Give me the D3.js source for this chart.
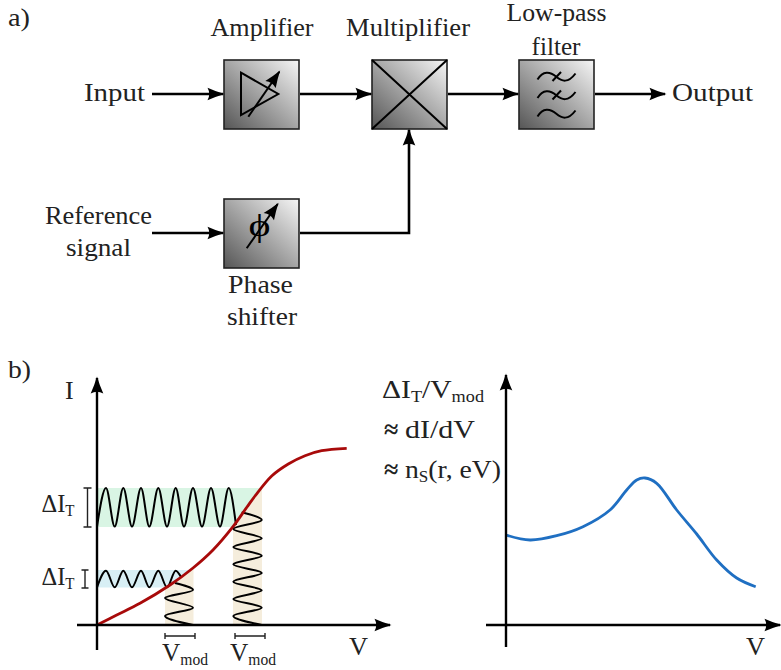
<!DOCTYPE html>
<html>
<head>
<meta charset="utf-8">
<script src="https://cdnjs.cloudflare.com/ajax/libs/d3/7.8.5/d3.min.js"></script>
<style>
  html, body { margin: 0; background: #fff; }
  text { font-family: "Liberation Serif", serif; font-size: 26px; fill: #222; }
</style>
</head>
<body>
<svg id="fig" width="781" height="670"></svg>
<script>
// I-V curve of panel b (arbitrary units)
var curveV = [0, 19.7, 43, 73, 96, 116, 136, 150, 158, 174.7, 191.3, 208, 224.7, 249.7];
var curveI = [0, 10, 21.7, 40, 57, 75, 98.3, 118, 129, 149, 161, 169.3, 174.3, 176.7];

// dI/dV curve on the right
var didvV = [0, 24, 50.7, 77, 104, 120.7, 130.7, 139, 150.7, 170.7, 190.7, 210.7, 230.7, 249.7];
var didvI = [90, 85, 89.3, 98.3, 115, 135, 145, 147, 141.7, 115, 91, 65, 47, 38.3];

// modulation wiggles: turning points
var bigOutV = [0, 9, 17.7, 26.3, 35, 44, 52.3, 61.3, 70, 78.7, 87, 96, 105, 114, 123, 131.7, 139];
var bigOutI = [98.5, 137, 98.5, 137, 98.5, 137, 98.5, 137, 98.5, 137, 98.5, 137, 98.5, 137, 98.5, 137, 100];
var smallOutV = [0, 9, 17.7, 26.3, 35, 44, 52.3, 61.3, 70, 78.7, 84];
var smallOutI = [37.7, 54.3, 37.7, 54.3, 37.7, 54.3, 37.7, 54.3, 37.7, 54.3, 48];
var bigInV = [144.7, 164.7, 136.3, 164.7, 136.3, 164.7, 136.3, 164.7, 136.3, 164.7, 136.3, 164.7, 136.3, 164.7];
var bigInI = [112.7, 105, 96, 86.7, 78, 69.3, 60.7, 52, 43.3, 34.7, 26, 17.3, 9, 0];
var smallInV = [78, 96, 68, 96, 68, 96];
var smallInI = [42, 35, 27, 17.3, 9, 0];

// shaded bands [from, to]
var bigOutBand = [98, 137];
var smallOutBand = [37.5, 55];
var bigInBand = [136, 165];
var smallInBand = [68, 96.5];

var svg = d3.select('#fig');
var defs = svg.append('defs');

var grad = defs.append('linearGradient').attr('id', 'boxGrad')
    .attr('x1', 0).attr('y1', 1).attr('x2', 1).attr('y2', 0);
grad.append('stop').attr('offset', 0).attr('stop-color', '#555');
grad.append('stop').attr('offset', 1).attr('stop-color', '#f6f6f6');

defs.append('marker').attr('id', 'head')
    .attr('markerUnits', 'userSpaceOnUse')
    .attr('viewBox', '-18 -7 20 14')
    .attr('markerWidth', 20).attr('markerHeight', 14)
    .attr('refX', 0).attr('refY', 0)
    .attr('orient', 'auto')
    .append('path')
    .attr('d', 'M1.5,0 Q-7,-2.5 -15.5,-6.3 Q-12,0 -15.5,6.3 Q-7,2.5 1.5,0Z')
    .attr('fill', '#000');

function zip(a, b) {
    return a.map(function(d, i) { return [d, b[i]]; });
}

// scales, 1 unit = 1 px, the domain includes the axis overhang
var xLeft = d3.scaleLinear().domain([-20, 293]).range([77, 390]);
var yLeft = d3.scaleLinear().domain([-25, 247]).range([650, 378]);
var xRight = d3.scaleLinear().domain([-20, 274]).range([486, 780]);
var yRight = d3.scaleLinear().domain([-22, 250]).range([647, 375]);

function leftLine(curve) {
    return d3.line()
        .x(function(d) { return xLeft(d[0]); })
        .y(function(d) { return yLeft(d[1]); })
        .curve(curve);
}
var lineLeft = leftLine(d3.curveMonotoneX);
var lineLeftVert = leftLine(d3.curveMonotoneY);
var lineLeftSmooth = leftLine(d3.curveCatmullRom.alpha(0.5));

var curvePts = zip(curveV, curveI);

// clip regions either side of the I-V curve
function clipArea(id, topI) {
    var area = d3.area()
        .x(function(d) { return xLeft(d[0]); })
        .y0(yLeft(topI))
        .y1(function(d) { return yLeft(d[1]); })
        .curve(d3.curveCatmullRom.alpha(0.5));
    defs.append('clipPath').attr('id', id).append('path').attr('d', area(curvePts));
}
clipArea('belowCurve', 0);
clipArea('aboveCurve', 177);

var plot = svg.append('g');

function hBand(band, toV, color) {
    plot.append('rect')
        .attr('x', xLeft(0)).attr('width', xLeft(toV) - xLeft(0))
        .attr('y', yLeft(band[1])).attr('height', yLeft(band[0]) - yLeft(band[1]))
        .attr('fill', color).attr('clip-path', 'url(#aboveCurve)');
}
function vBand(band, color) {
    plot.append('rect')
        .attr('x', xLeft(band[0])).attr('width', xLeft(band[1]) - xLeft(band[0]))
        .attr('y', yLeft(177)).attr('height', yLeft(0) - yLeft(177))
        .attr('fill', color).attr('clip-path', 'url(#belowCurve)');
}
hBand(bigOutBand, 165, '#d9f5e4');
hBand(smallOutBand, 96.5, '#d8eff5');
vBand(bigInBand, '#f5eddc');
vBand(smallInBand, '#f5eddc');

function wiggle(gen, vs, is) {
    plot.append('path').attr('d', gen(zip(vs, is)))
        .attr('fill', 'none').attr('stroke', '#000').attr('stroke-width', 2);
}
wiggle(lineLeft, bigOutV, bigOutI);
wiggle(lineLeft, smallOutV, smallOutI);
wiggle(lineLeftVert, bigInV, bigInI);
wiggle(lineLeftVert, smallInV, smallInI);

plot.append('path').attr('d', lineLeftSmooth(curvePts))
    .attr('fill', 'none').attr('stroke', '#a80a0a').attr('stroke-width', 2.8);

var lineRight = d3.line()
    .x(function(d) { return xRight(d[0]); })
    .y(function(d) { return yRight(d[1]); })
    .curve(d3.curveCatmullRom.alpha(0.5));
plot.append('path').attr('d', lineRight(zip(didvV, didvI)))
    .attr('fill', 'none').attr('stroke', '#1f6fc2').attr('stroke-width', 2.8);

// axes without ticks, just the domain line with an arrow head
function drawAxis(axis, tx, ty) {
    var g = svg.append('g')
        .attr('transform', 'translate(' + tx + ',' + ty + ')')
        .call(axis.tickValues([]).tickSizeOuter(0).offset(0));
    g.select('.domain')
        .attr('stroke', '#000').attr('stroke-width', 2.4)
        .attr('marker-end', 'url(#head)');
}
drawAxis(d3.axisBottom(xLeft), 0, yLeft(0));
drawAxis(d3.axisLeft(yLeft), xLeft(0), 0);
drawAxis(d3.axisBottom(xRight), 0, yRight(0));
drawAxis(d3.axisLeft(yRight), xRight(0), 0);

// block diagram
var diagram = svg.append('g');

function box(x, y) {
    diagram.append('rect').attr('x', x).attr('y', y).attr('width', 75).attr('height', 69)
        .attr('fill', 'url(#boxGrad)').attr('stroke', '#222').attr('stroke-width', 1.6);
}
function stroke(d, w, withHead) {
    var p = diagram.append('path').attr('d', d).attr('fill', 'none')
        .attr('stroke', '#000').attr('stroke-width', w || 2.6);
    if (withHead) p.attr('marker-end', 'url(#head)');
    return p;
}

box(224, 60);
box(372, 60);
box(519, 60);
box(224, 199);

stroke('M152,94H223', 2.6, true);
stroke('M300,94H371', 2.6, true);
stroke('M448,94H518', 2.6, true);
stroke('M595,94H665', 2.6, true);
stroke('M152,233H223', 2.6, true);
stroke('M300,233H409V130', 2.6, true);

// amplifier symbol
stroke('M241,72.7L278.3,94L241,115Z', 2);
stroke('M248.3,116.7L279.3,71.7', 2, true);

// multiplier cross
stroke('M372,60L447,129M447,60L372,129', 2);

// filter symbol: three tildes, the top two struck through
[76.5, 95, 113.5].forEach(function(cy, i) {
    stroke('M537.5,' + (cy + 3) + 'C543,' + (cy - 6) + ' 550,' + (cy - 5) + ' 556,' + cy +
        'S568,' + (cy + 7) + ' 575.5,' + (cy - 3), 2);
    if (i < 2) stroke('M552.5,' + (cy + 4.5) + 'L561,' + (cy - 4.5), 2);
});

// text helpers, parts are [string, isSubscript], width stretches the glyphs
function label(x, y, parts, anchor, width) {
    var t = svg.append('text').attr('x', x).attr('y', y)
        .attr('text-anchor', anchor || 'start');
    var lowered = false;
    parts.forEach(function(p) {
        var s = t.append('tspan').text(p[0]);
        if (p[1]) {
            s.attr('dy', lowered ? 0 : 4).style('font-size', '16px');
            lowered = true;
        } else {
            if (lowered) s.attr('dy', -4);
            lowered = false;
        }
    });
    if (width) t.attr('textLength', width).attr('lengthAdjust', 'spacingAndGlyphs');
    return t;
}

label(8, 26, [['a)']], 'start', 22);
label(262, 36, [['Amplifier']], 'middle', 103);
label(408, 36, [['Multiplifier']], 'middle', 124);
label(556.5, 21, [['Low-pass']], 'middle', 100);
label(556, 54.5, [['filter']], 'middle', 49);
label(84, 101, [['Input']], 'start', 61);
label(672, 101, [['Output']], 'start', 81);
label(98.5, 224, [['Reference']], 'middle', 107);
label(98.5, 256, [['signal']], 'middle', 65);
label(260.5, 293, [['Phase']], 'middle', 65);
label(262, 325, [['shifter']], 'middle', 70);
label(8, 378, [['b)']], 'start', 23);
label(65, 399, [['I']]);
label(41.5, 512, [['ΔI'], ['T', true]], 'start', 33);
label(41.5, 585, [['ΔI'], ['T', true]], 'start', 33);
label(162, 661, [['V'], ['mod', true]], 'start', 46);
label(230, 661, [['V'], ['mod', true]], 'start', 46);
label(349, 655, [['V']], 'start', 19);
label(746, 655, [['V']], 'start', 19);
label(382, 398, [['ΔI'], ['T', true], ['/V'], ['mod', true]], 'start', 102);
label(384, 438, [['≈']]).style('font-weight', 'bold');
label(405, 438, [['dI/dV']], 'start', 70);
label(384, 478, [['≈']]).style('font-weight', 'bold');
label(405, 478, [['n'], ['S', true], ['(r, eV)']], 'start', 96);

// phase shifter symbol
svg.append('text').attr('x', 259.5).attr('y', 236).attr('text-anchor', 'middle')
    .attr('textLength', 22).attr('lengthAdjust', 'spacingAndGlyphs')
    .style('font-size', '32px').style('fill', '#000').text('ϕ');
svg.append('path').attr('d', 'M246.7,248.3L277.7,204').attr('fill', 'none')
    .attr('stroke', '#000').attr('stroke-width', 2).attr('marker-end', 'url(#head)');

// brackets next to the bands
function bracket(d) {
    svg.append('path').attr('d', d).attr('fill', 'none')
        .attr('stroke', '#222').attr('stroke-width', 1.4);
}
bracket('M83.5,488H91.5M87.5,488V527M83.5,527H91.5');
bracket('M81.5,570H88.5M85,570V588M81.5,588H88.5');
bracket('M165,633V639M165,636H195M195,633V639');
bracket('M235,633V639M235,636H265M265,633V639');
</script>
</body>
</html>
